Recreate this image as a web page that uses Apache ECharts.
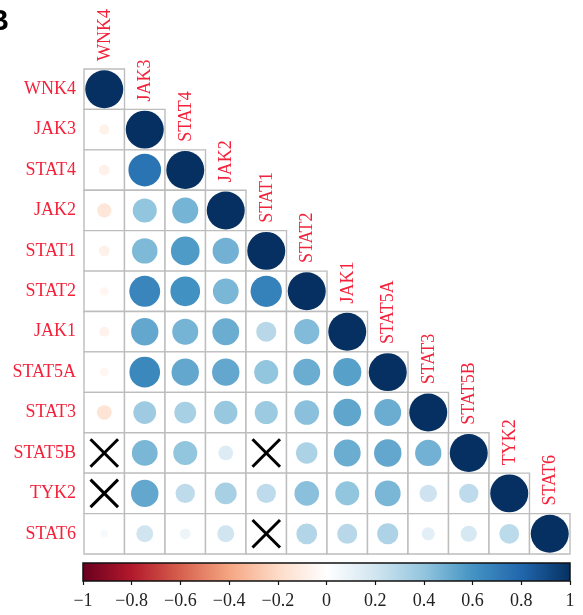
<!DOCTYPE html>
<html>
<head>
<meta charset="utf-8">
<script src="https://cdn.jsdelivr.net/npm/echarts@6.0.0/dist/echarts.min.js"></script>
<style>
  html, body { margin: 0; padding: 0; background: #fff; }
  #chart { width: 583px; height: 615px; }
</style>
</head>
<body>
<div id="chart"></div>
<script>
// Gene order (rows top to bottom, columns left to right)
const genes = ['WNK4', 'JAK3', 'STAT4', 'JAK2', 'STAT1', 'STAT2', 'JAK1', 'STAT5A', 'STAT3', 'STAT5B', 'TYK2', 'STAT6'];

// Lower-triangle correlation coefficients, one array per row, ending with the diagonal
const rowWNK4   = [1];
const rowJAK3   = [-0.07, 1];
const rowSTAT4  = [-0.08, 0.74, 1];
const rowJAK2   = [-0.14, 0.40, 0.47, 1];
const rowSTAT1  = [-0.08, 0.45, 0.57, 0.48, 1];
const rowSTAT2  = [-0.05, 0.66, 0.61, 0.46, 0.68, 1];
const rowJAK1   = [-0.07, 0.52, 0.47, 0.50, 0.28, 0.44, 1];
const rowSTAT5A = [-0.05, 0.65, 0.52, 0.52, 0.40, 0.50, 0.55, 1];
const rowSTAT3  = [-0.15, 0.36, 0.33, 0.38, 0.37, 0.42, 0.53, 0.50, 1];
const rowSTAT5B = [0.01, 0.46, 0.40, 0.15, 0.02, 0.32, 0.50, 0.52, 0.48, 1];
const rowTYK2   = [0.01, 0.52, 0.26, 0.33, 0.26, 0.42, 0.40, 0.46, 0.21, 0.26, 1];
const rowSTAT6  = [0.04, 0.20, 0.08, 0.20, 0.02, 0.30, 0.28, 0.31, 0.12, 0.18, 0.27, 1];

const corrRows = [rowWNK4, rowJAK3, rowSTAT4, rowJAK2, rowSTAT1, rowSTAT2,
                  rowJAK1, rowSTAT5A, rowSTAT3, rowSTAT5B, rowTYK2, rowSTAT6];

// Pairs that are not significant (row gene, column gene)
const insignificant = [['STAT5B', 'WNK4'], ['STAT5B', 'STAT1'], ['TYK2', 'WNK4'], ['STAT6', 'STAT1']];

// Colour legend ticks
const legendTicks = [-1, -0.8, -0.6, -0.4, -0.2, 0, 0.2, 0.4, 0.6, 0.8, 1];

// Diverging red-white-blue palette
const rdbu = ['#67001F', '#B2182B', '#D6604D', '#F4A582', '#FDDBC7', '#FFFFFF',
              '#D1E5F0', '#92C5DE', '#4393C3', '#2166AC', '#053061'];

// Build series data from the arrays above
const cellData = [];
const circleData = [];
corrRows.forEach((row, i) => {
  row.forEach((r, j) => {
    cellData.push([genes[j], genes[i]]);
    circleData.push([genes[j], genes[i], r]);
  });
});
const crossData = insignificant.map(p => [p[1], p[0]]);
const diagLabels = genes.map(g => [g, g, g]);

const labelRed = '#f3213a';
const serif = '"Liberation Serif", "Times New Roman", serif';

const chart = echarts.init(document.getElementById('chart'), null, { renderer: 'canvas' });

chart.setOption({
  animation: false,
  backgroundColor: '#fff',
  graphic: [{
    type: 'text',
    left: -12,
    top: 7,
    style: { text: 'B', font: 'bold 29px "Liberation Sans", Arial, sans-serif', fill: '#000' }
  }],
  grid: [
    { left: 84, right: 13, top: 69, bottom: 61 },
    { left: 83, right: 13, top: 563, height: 18 }
  ],
  xAxis: [
    {
      gridIndex: 0, type: 'category', data: genes,
      axisLine: { show: false }, axisTick: { show: false },
      axisLabel: { show: false }, splitLine: { show: false }
    },
    {
      gridIndex: 1, type: 'value', min: -1, max: 1, interval: 0.2,
      position: 'bottom',
      axisLine: { show: false },
      axisTick: { show: true, length: 4, lineStyle: { color: '#111', width: 1.2 } },
      splitLine: { show: false },
      axisLabel: {
        margin: 11,
        color: '#222',
        fontFamily: serif,
        fontSize: 18,
        customValues: legendTicks,
        formatter: v => {
          const n = parseFloat(v.toFixed(1));
          return n < 0 ? '\u2212' + Math.abs(n) : String(n);
        }
      }
    }
  ],
  yAxis: [
    {
      gridIndex: 0, type: 'category', data: genes, inverse: true,
      axisLine: { show: false }, axisTick: { show: false }, splitLine: { show: false },
      axisLabel: { margin: 8, color: labelRed, fontFamily: serif, fontSize: 18 }
    },
    {
      gridIndex: 1, type: 'value', min: 0, max: 1, show: false
    }
  ],
  visualMap: {
    show: false,
    type: 'continuous',
    min: -1, max: 1,
    dimension: 2,
    seriesIndex: 1,
    inRange: { color: rdbu }
  },
  series: [
    {
      // grid cells of the lower triangle
      type: 'custom',
      xAxisIndex: 0, yAxisIndex: 0,
      data: cellData,
      silent: true,
      renderItem: (params, api) => {
        const c = api.coord([api.value(0), api.value(1)]);
        const s = api.size([1, 1]);
        return {
          type: 'rect',
          shape: { x: c[0] - s[0] / 2, y: c[1] - s[1] / 2, width: s[0], height: s[1] },
          style: { fill: '#fff', stroke: '#bdbdbd', lineWidth: 1.4 }
        };
      }
    },
    {
      // correlation circles, area proportional to |r|
      type: 'custom',
      xAxisIndex: 0, yAxisIndex: 0,
      data: circleData,
      renderItem: (params, api) => {
        const c = api.coord([api.value(0), api.value(1)]);
        const s = api.size([1, 1]);
        const r = api.value(2);
        const rad = Math.min(s[0], s[1]) / 2 * 0.94 * Math.sqrt(Math.abs(r));
        return {
          type: 'circle',
          shape: { cx: c[0], cy: c[1], r: rad },
          style: { fill: api.visual('color') }
        };
      }
    },
    {
      // crosses on non-significant pairs
      type: 'custom',
      xAxisIndex: 0, yAxisIndex: 0,
      data: crossData,
      silent: true,
      renderItem: (params, api) => {
        const c = api.coord([api.value(0), api.value(1)]);
        const s = api.size([1, 1]);
        const h = s[0] * 0.34;
        const st = { stroke: '#000', lineWidth: 3 };
        return {
          type: 'group',
          children: [
            { type: 'line', shape: { x1: c[0] - h, y1: c[1] - h, x2: c[0] + h, y2: c[1] + h }, style: st },
            { type: 'line', shape: { x1: c[0] - h, y1: c[1] + h, x2: c[0] + h, y2: c[1] - h }, style: st }
          ]
        };
      }
    },
    {
      // column names above the diagonal
      type: 'custom',
      xAxisIndex: 0, yAxisIndex: 0,
      data: diagLabels,
      silent: true,
      renderItem: (params, api) => {
        const c = api.coord([api.value(0), api.value(1)]);
        const s = api.size([1, 1]);
        return {
          type: 'text',
          x: c[0] + 1,
          y: c[1] - s[1] / 2 - 8,
          rotation: Math.PI / 2,
          style: {
            text: genes[params.dataIndex],
            fill: labelRed,
            font: '18px ' + serif,
            align: 'left',
            verticalAlign: 'middle'
          }
        };
      }
    },
    {
      // colour legend bar
      type: 'custom',
      xAxisIndex: 1, yAxisIndex: 1,
      data: [[-1, 0, 1, 1]],
      silent: true,
      renderItem: (params, api) => {
        const p0 = api.coord([api.value(0), api.value(1)]);
        const p1 = api.coord([api.value(2), api.value(3)]);
        const stops = rdbu.map((col, k) => ({ offset: k / (rdbu.length - 1), color: col }));
        return {
          type: 'rect',
          shape: { x: p0[0], y: p1[1], width: p1[0] - p0[0], height: p0[1] - p1[1] },
          style: {
            fill: new echarts.graphic.LinearGradient(0, 0, 1, 0, stops),
            stroke: '#111',
            lineWidth: 1.5
          }
        };
      }
    }
  ]
});
</script>
</body>
</html>
